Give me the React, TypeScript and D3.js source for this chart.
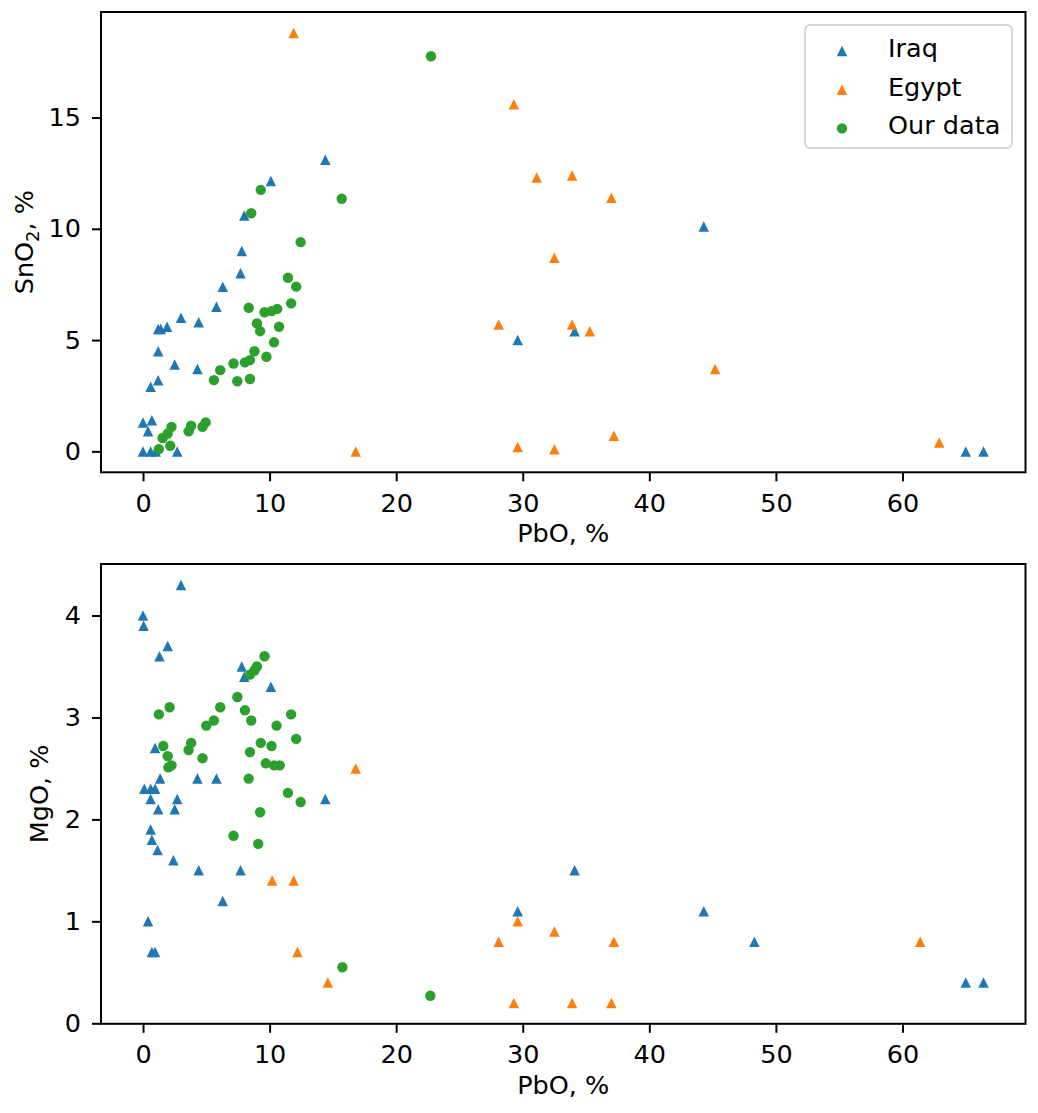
import { useEffect, useRef } from 'react'
import * as d3 from 'd3'

// ---- top panel: PbO vs SnO2 ----
const iraqPbO_sn = [14.4, 10.1, 8.0, 7.8, 7.7, 6.3, 5.8, 4.4, 3.0, 1.9, 1.2, 1.4, 1.2, 2.5, 4.3, 1.2, 0.6, 0.0, 0.7, 0.4, 0.0, 0.6, 1.0, 2.7, 29.6, 34.1, 44.3, 65.0, 66.4]
const iraqSnO2 = [13.1, 12.15, 10.6, 9.0, 8.0, 7.4, 6.5, 5.8, 6.0, 5.6, 5.5, 5.5, 4.5, 3.9, 3.7, 3.2, 2.9, 1.3, 1.4, 0.9, 0.0, 0.0, 0.0, 0.0, 5.0, 5.4, 10.1, 0.0, 0.0]

const egyptPbO_sn = [11.9, 29.3, 31.1, 33.9, 37.0, 32.5, 28.1, 33.9, 35.3, 45.2, 37.2, 29.6, 32.5, 16.8, 62.9]
const egyptSnO2 = [18.8, 15.6, 12.3, 12.4, 11.4, 8.7, 5.7, 5.7, 5.4, 3.7, 0.7, 0.2, 0.1, 0.0, 0.4]

const oursPbO_sn = [22.75, 15.7, 9.3, 8.55, 12.45, 11.45, 12.1, 11.7, 8.35, 9.6, 10.15, 10.6, 9.0, 9.25, 10.75, 10.35, 8.8, 9.75, 8.05, 8.45, 7.15, 6.1, 5.6, 7.45, 8.45, 4.95, 4.7, 3.8, 3.6, 2.25, 1.95, 1.55, 2.15, 1.25]
const oursSnO2 = [17.75, 11.35, 11.75, 10.7, 9.4, 7.8, 7.4, 6.65, 6.45, 6.25, 6.3, 6.4, 5.75, 5.4, 5.6, 4.9, 4.5, 4.25, 4.0, 4.1, 3.95, 3.65, 3.2, 3.15, 3.25, 1.3, 1.1, 1.15, 0.9, 1.1, 0.8, 0.6, 0.25, 0.1]

// ---- bottom panel: PbO vs MgO ----
const iraqPbO_mg = [3.0, 0.0, 0.05, 1.95, 1.3, 7.8, 8.0, 10.1, 0.95, 1.35, 4.3, 5.8, 0.1, 0.6, 0.95, 2.7, 0.6, 1.2, 2.5, 14.4, 0.6, 0.7, 1.15, 2.4, 4.4, 7.7, 6.3, 0.4, 0.7, 0.95, 29.6, 34.1, 44.3, 48.3, 65.0, 66.4]
const iraqMgO = [4.3, 4.0, 3.9, 3.7, 3.6, 3.5, 3.4, 3.3, 2.7, 2.4, 2.4, 2.4, 2.3, 2.3, 2.3, 2.2, 2.2, 2.1, 2.1, 2.2, 1.9, 1.8, 1.7, 1.6, 1.5, 1.5, 1.2, 1.0, 0.7, 0.7, 1.1, 1.5, 1.1, 0.8, 0.4, 0.4]

const egyptPbO_mg = [16.8, 10.2, 11.9, 12.2, 14.6, 28.1, 29.6, 29.3, 32.5, 33.9, 37.2, 37.0, 61.4]
const egyptMgO = [2.5, 1.4, 1.4, 0.7, 0.4, 0.8, 1.0, 0.2, 0.9, 0.2, 0.8, 0.2, 0.8]

const oursPbO_mg = [9.6, 9.0, 8.8, 8.45, 7.45, 6.1, 2.1, 1.25, 8.05, 8.55, 5.6, 5.0, 11.7, 10.55, 12.1, 9.3, 10.15, 3.8, 3.6, 1.6, 1.95, 4.7, 8.45, 2.25, 2.0, 9.7, 10.35, 10.8, 8.35, 11.45, 12.45, 9.25, 7.15, 9.1, 15.75, 22.7]
const oursMgO = [3.6, 3.5, 3.46, 3.42, 3.2, 3.1, 3.1, 3.03, 3.07, 2.97, 2.97, 2.92, 3.03, 2.92, 2.79, 2.75, 2.72, 2.75, 2.68, 2.72, 2.62, 2.6, 2.66, 2.53, 2.51, 2.55, 2.53, 2.53, 2.4, 2.26, 2.17, 2.07, 1.84, 1.76, 0.55, 0.27]

const xTicks = [0, 10, 20, 30, 40, 50, 60]
const snTicks = [0, 5, 10, 15]
const mgTicks = [0, 1, 2, 3, 4]
const legendLabels = ['Iraq', 'Egypt', 'Our data']

const COLORS = ['#1f77b4', '#ff7f0e', '#2ca02c']
const FONT = "'DejaVu Sans', sans-serif"
const FONT_SIZE = 25.5

// matplotlib '^' : width == height, centred on its bounding box
const mplTriangle = {
  draw(ctx, size) {
    const h = Math.sqrt(size) / 2
    ctx.moveTo(0, -h)
    ctx.lineTo(h, h)
    ctx.lineTo(-h, h)
    ctx.closePath()
  }
}
const triangle = d3.symbol().type(mplTriangle).size(10.5 * 10.5)
const circle = d3.symbol().type(d3.symbolCircle).size(Math.PI * 5.2 * 5.2)

function padded(values) {
  const [lo, hi] = d3.extent(values)
  const d = (hi - lo) * 0.05
  return [lo - d, hi + d]
}

function drawPanel(svg, { top, height, series, yTicks, yLabelX, yLabel }) {
  const left = 101
  const width = 924.5
  const bottom = top + height

  const x = d3.scaleLinear()
    .domain(padded(series.flatMap(s => s.x)))
    .range([left, left + width])
  const y = d3.scaleLinear()
    .domain(padded(series.flatMap(s => s.y)))
    .range([bottom, top])

  const g = svg.append('g')

  // points
  series.forEach(s => {
    g.append('g')
      .selectAll('path')
      .data(s.x.map((v, i) => [v, s.y[i]]))
      .join('path')
      .attr('transform', d => `translate(${x(d[0])},${y(d[1])})`)
      .attr('d', s.marker === 'circle' ? circle() : triangle())
      .attr('fill', s.color)
  })

  // axes
  const fmt = d3.format('d')
  const xAxis = g.append('g')
    .attr('transform', `translate(0,${bottom})`)
    .call(d3.axisBottom(x).tickValues(xTicks).tickFormat(fmt).tickSize(9).tickSizeOuter(0).tickPadding(12.5))
  const yAxis = g.append('g')
    .attr('transform', `translate(${left},0)`)
    .call(d3.axisLeft(y).tickValues(yTicks).tickFormat(fmt).tickSize(9).tickSizeOuter(0).tickPadding(11))
  ;[xAxis, yAxis].forEach(a => {
    a.select('.domain').remove()
    a.selectAll('line').attr('stroke', '#000').attr('stroke-width', 2)
    a.selectAll('text')
      .attr('fill', '#000')
      .attr('font-size', FONT_SIZE)
      .attr('font-family', FONT)
  })

  // frame
  g.append('rect')
    .attr('x', left)
    .attr('y', top)
    .attr('width', width)
    .attr('height', height)
    .attr('fill', 'none')
    .attr('stroke', '#000')
    .attr('stroke-width', 2)

  // x label
  g.append('text')
    .attr('x', left + width / 2)
    .attr('y', bottom + 70)
    .attr('text-anchor', 'middle')
    .attr('font-size', FONT_SIZE)
    .attr('font-family', FONT)
    .text('PbO, %')

  // y label
  const yl = g.append('text')
    .attr('transform', `translate(${yLabelX},${top + height / 2}) rotate(-90)`)
    .attr('text-anchor', 'middle')
    .attr('font-size', FONT_SIZE)
    .attr('font-family', FONT)
  yLabel(yl)
}

function App() {
  const ref = useRef(null)

  useEffect(() => {
    const svg = d3.select(ref.current)
    svg.selectAll('*').remove()

    drawPanel(svg, {
      top: 12,
      height: 460.3,
      yTicks: snTicks,
      yLabelX: 33,
      series: [
        { x: iraqPbO_sn, y: iraqSnO2, color: COLORS[0], marker: 'triangle' },
        { x: egyptPbO_sn, y: egyptSnO2, color: COLORS[1], marker: 'triangle' },
        { x: oursPbO_sn, y: oursSnO2, color: COLORS[2], marker: 'circle' },
      ],
      yLabel: t => {
        t.append('tspan').text('SnO')
        t.append('tspan').attr('dy', 6).attr('font-size', 18).text('2')
        t.append('tspan').attr('dy', -6).text(', %')
      },
    })

    drawPanel(svg, {
      top: 564,
      height: 459.8,
      yTicks: mgTicks,
      yLabelX: 48,
      series: [
        { x: iraqPbO_mg, y: iraqMgO, color: COLORS[0], marker: 'triangle' },
        { x: egyptPbO_mg, y: egyptMgO, color: COLORS[1], marker: 'triangle' },
        { x: oursPbO_mg, y: oursMgO, color: COLORS[2], marker: 'circle' },
      ],
      yLabel: t => t.text('MgO, %'),
    })

    // legend (top panel only)
    const legend = svg.append('g').attr('transform', 'translate(805,25)')
    legend.append('rect')
      .attr('width', 207)
      .attr('height', 123)
      .attr('rx', 5)
      .attr('fill', '#fff')
      .attr('fill-opacity', 0.8)
      .attr('stroke', '#cccccc')
      .attr('stroke-width', 1.5)
    legendLabels.forEach((label, i) => {
      const rowY = 32 + i * 38.7
      legend.append('path')
        .attr('transform', `translate(37,${rowY - 6})`)
        .attr('d', i === 2 ? circle() : triangle())
        .attr('fill', COLORS[i])
      legend.append('text')
        .attr('x', 83)
        .attr('y', rowY)
        .attr('font-size', FONT_SIZE)
        .attr('font-family', FONT)
        .text(label)
    })
  }, [])

  return (
    <svg
      ref={ref}
      width={1038}
      height={1113}
      style={{ position: 'absolute', left: 0, top: 0, background: '#fff' }}
    />
  )
}

export default App
